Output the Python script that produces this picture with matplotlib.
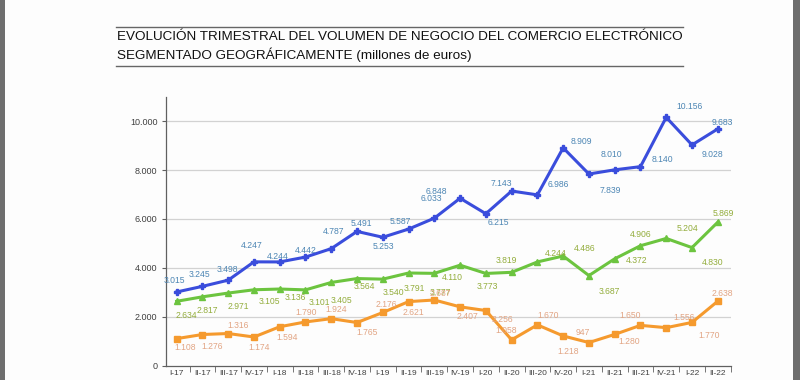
#Quarterly e-commerce turnover, segmented geographically (millions of euros)
#python3

import matplotlib.pyplot as plt
from matplotlib.patches import Rectangle
from matplotlib.lines import Line2D

QUARTERS = ['I-17', 'II-17', 'III-17', 'IV-17', 'I-18', 'II-18', 'III-18', 'IV-18',
            'I-19', 'II-19', 'III-19', 'IV-19', 'I-20', 'II-20', 'III-20', 'IV-20',
            'I-21', 'II-21', 'III-21', 'IV-21', 'I-22', 'II-22']
BLUE_VALS = [3015, 3245, 3498, 4247, 4244, 4442, 4787, 5491, 5253, 5587, 6033,
             6848, 6215, 7143, 6986, 8909, 7839, 8010, 8140, 10156, 9028, 9683]
GREEN_VALS = [2634, 2817, 2971, 3105, 3136, 3101, 3405, 3564, 3540, 3791, 3777,
              4110, 3773, 3819, 4244, 4486, 3687, 4372, 4906, 5204, 4830, 5869]
ORANGE_VALS = [1108, 1276, 1316, 1174, 1594, 1790, 1924, 1765, 2176, 2621, 2687,
               2407, 2256, 1058, 1670, 1218, 947, 1280, 1650, 1556, 1770, 2638]
Y_TICKS = [0, 2000, 4000, 6000, 8000, 10000]

# label offsets in pixels (dx right, dy down) - placement only
BLUE_OFF = [(-2, -11.5), (-3, -12), (-1, -11), (-2, -16), (-2, -5), (0, -7), (2, -17),
            (4, -8), (1, 9.5), (-8, -8), (-3, -19.5), (-24, -7), (13, 9), (-10, -8),
            (21, -10), (18, -6), (21, 16), (-3, -15), (22, -7.5), (23, -10.5), (20, 9.5), (5, -6)]
GREEN_OFF = [(10, 14), (5, 14), (10, 13), (15, 12), (16, 8), (14, 13), (10, 18),
             (7, 8), (11, 13.5), (6, 15), (6, 19), (-8, 12), (1, 13), (-5, -12), (18, -8),
             (21, -8), (20, 16), (22, 2), (0, -11), (21, -10), (21, 15), (6, -8.5)]
ORANGE_OFF = [(8, 9), (10, 12), (10, -8), (5, 10), (7, 11), (1, -9), (5, -9), (10, 10),
              (4, -8), (5, 11), (6, -7), (7, 10), (17, 9), (-5, -9), (11, -9), (5, 16),
              (-6, -10), (15, 7), (-10, -10), (18, -10), (17, 13), (5, -8)]

plt.rcParams['font.family'] = ['Liberation Sans', 'DejaVu Sans']


def fmt(v):
    return f'{v:,}'.replace(',', '.')


fig = plt.figure(figsize=(8, 3.8), dpi=100)
fig.patch.set_facecolor('#fdfdfd')
ax = fig.add_axes([0.2073, 0.0376, 0.706, 0.7079])
ax.set_facecolor('none')

x = list(range(len(QUARTERS)))
series = [
    (BLUE_VALS, BLUE_OFF, '#3a4ddc', '#4d86b4', 'P', 4.5),
    (GREEN_VALS, GREEN_OFF, '#6cc43f', '#93ad3c', '^', 4.5),
    (ORANGE_VALS, ORANGE_OFF, '#f59a2e', '#e2a584', 's', 4),
]
for vals, offs, lc, tc, mk, ms in series:
    ax.plot(x, vals, color=lc, lw=2.2, marker=mk, ms=ms, zorder=3)
    for xi, v, (dx, dy) in zip(x, vals, offs):
        ax.annotate(fmt(v), (xi, v), xytext=(dx, -dy), textcoords='offset pixels',
                    ha='center', va='center', fontsize=6.2, color=tc, zorder=4)

ax.set_xlim(-0.42, 21.5)
ax.set_ylim(0, 11000)
ax.set_yticks(Y_TICKS)
ax.set_yticklabels([fmt(t) for t in Y_TICKS], fontsize=6.5, color='#404040')
ax.set_xticks(x)
ax.set_xticklabels(QUARTERS, fontsize=6, color='#404040')
ax.tick_params(axis='x', which='major', length=0, pad=3)
ax.set_xticks([i + 0.5 for i in x[:-1]] + [21.5], minor=True)
ax.tick_params(axis='x', which='minor', length=4, color='#606060')
ax.tick_params(axis='y', length=3, color='#606060', pad=3)

for t in Y_TICKS[1:]:
    ax.axhline(t, color='#d2d2d2', lw=0.9, zorder=1)
for s in ['top', 'right']:
    ax.spines[s].set_visible(False)
for s in ['left', 'bottom']:
    ax.spines[s].set_color('#606060')
    ax.spines[s].set_linewidth(0.9)

# title block with rules
W, H = 800, 380
for yy in [26.7, 65.5]:
    fig.add_artist(Line2D([116 / W, 683 / W], [1 - yy / H, 1 - yy / H], color='#666666', lw=1))
fig.text(117 / W, 1 - 37 / H, 'EVOLUCIÓN TRIMESTRAL DEL VOLUMEN DE NEGOCIO DEL COMERCIO ELECTRÓNICO',
         fontsize=9.7, color='#111111', va='center', ha='left')
fig.text(117 / W, 1 - 55 / H, 'SEGMENTADO GEOGRÁFICAMENTE (millones de euros)',
         fontsize=9.7, color='#111111', va='center', ha='left')

# screenshot borders
fig.add_artist(Rectangle((0, 0), 5 / W, 1, transform=fig.transFigure, color='#6e6e6e', lw=0))
fig.add_artist(Rectangle((793 / W, 0), 7 / W, 1, transform=fig.transFigure, color='#6e6e6e', lw=0))

fig.savefig('out.png', dpi=100, facecolor=fig.get_facecolor())
